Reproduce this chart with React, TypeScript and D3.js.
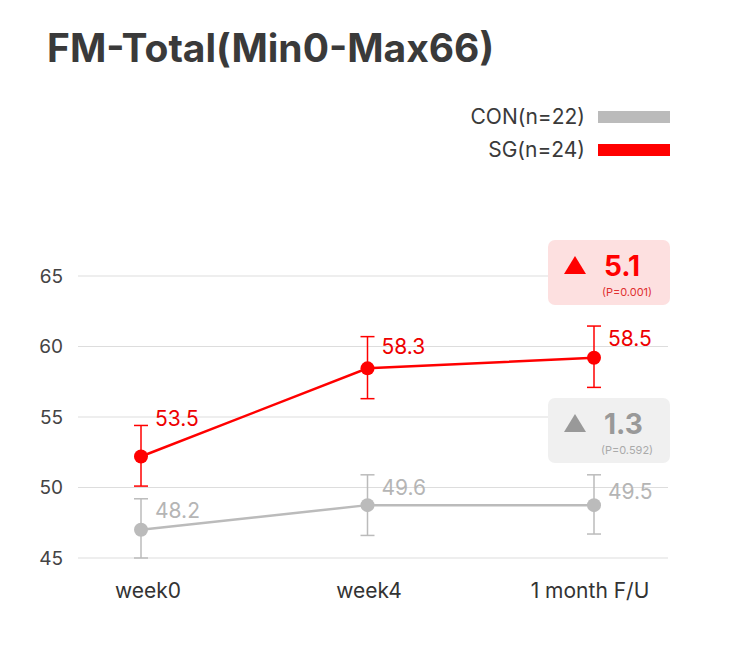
import * as d3 from "d3";
import { useEffect, useRef } from "react";

const title = "FM-Total(Min0-Max66)";
const categories = ["week0", "week4", "1 month F/U"];
const yTicks = [45, 50, 55, 60, 65];

const seriesNames = ["CON(n=22)", "SG(n=24)"];
const seriesColors = ["#bbbbbb", "#ff0000"];
const labelColors = ["#b5b5b5", "#ee0000"];

// plotted means, error bar extents and printed labels
const conValues = [47.0, 48.75, 48.75];
const conLow = [45.0, 46.6, 46.7];
const conHigh = [49.2, 50.9, 50.9];
const conLabels = ["48.2", "49.6", "49.5"];

const sgValues = [52.2, 58.45, 59.2];
const sgLow = [50.1, 56.3, 57.1];
const sgHigh = [54.4, 60.7, 61.45];
const sgLabels = ["53.5", "58.3", "58.5"];

const changeValues = ["1.3", "5.1"];
const pValues = ["(P=0.592)", "(P=0.001)"];

const FONT = "Inter, 'Noto Sans', sans-serif";

function App() {
  const ref = useRef<SVGSVGElement>(null);

  useEffect(() => {
    const svg = d3.select(ref.current);
    svg.selectAll("*").remove();

    const x = d3.scalePoint().domain(categories).range([141, 594]);
    // category labels sit slightly inward of the points
    const xLabel = d3.scalePoint().domain(categories).range([148, 590]);
    const y = d3.scaleLinear().domain([45, 65]).range([558, 276]);

    // title
    svg
      .append("text")
      .attr("x", 47)
      .attr("y", 62)
      .text(title)
      .style("font-family", FONT)
      .style("font-size", "39px")
      .style("font-weight", "700")
      .style("fill", "#3a3a3a");

    // legend
    seriesNames.forEach((name, i) => {
      const ly = 117 + i * 33;
      svg
        .append("text")
        .attr("x", 585)
        .attr("y", ly)
        .attr("dy", "0.35em")
        .attr("text-anchor", "end")
        .text(name)
        .style("font-family", FONT)
        .style("font-size", "21px")
        .style("fill", "#3a3a3a");
      svg
        .append("rect")
        .attr("x", 598)
        .attr("y", ly - 6)
        .attr("width", 72)
        .attr("height", 12)
        .attr("fill", seriesColors[i]);
    });

    // grid
    svg
      .append("g")
      .selectAll("line")
      .data(yTicks)
      .join("line")
      .attr("x1", 78)
      .attr("x2", 668)
      .attr("y1", (d) => y(d))
      .attr("y2", (d) => y(d))
      .attr("stroke", "#dddddd")
      .attr("stroke-width", 1);

    svg
      .append("g")
      .selectAll("text")
      .data(yTicks)
      .join("text")
      .attr("x", 63)
      .attr("y", (d) => y(d))
      .attr("dy", "0.35em")
      .attr("text-anchor", "end")
      .text((d) => d)
      .style("font-family", FONT)
      .style("font-size", "19px")
      .style("fill", "#444");

    svg
      .append("g")
      .selectAll("text")
      .data(categories)
      .join("text")
      .attr("x", (d) => xLabel(d)!)
      .attr("y", 591)
      .attr("dy", "0.35em")
      .attr("text-anchor", "middle")
      .text((d) => d)
      .style("font-family", FONT)
      .style("font-size", "21px")
      .style("fill", "#333");

    // annotation boxes
    const boxes = [
      { top: 398, fill: "#f0f0f0", color: "#999999", pColor: "#aaaaaa" },
      { top: 240, fill: "#fde0e0", color: "#ff0000", pColor: "#e03030" },
    ];
    boxes.forEach((b, i) => {
      const g = svg.append("g").attr("transform", `translate(548,${b.top})`);
      g.append("rect")
        .attr("width", 122)
        .attr("height", 65)
        .attr("rx", 7)
        .attr("fill", b.fill);
      g.append("path")
        .attr("d", "M16,34 L27,16 L38,34 Z")
        .attr("fill", b.color);
      g.append("text")
        .attr("x", 56)
        .attr("y", 36)
        .text(changeValues[i])
        .style("font-family", FONT)
        .style("font-size", "28px")
        .style("font-weight", "700")
        .style("fill", b.color);
      g.append("text")
        .attr("x", 79)
        .attr("y", 56)
        .attr("text-anchor", "middle")
        .text(pValues[i])
        .style("font-family", FONT)
        .style("font-size", "11px")
        .style("fill", b.pColor);
    });

    const series = [
      { values: conValues, low: conLow, high: conHigh, labels: conLabels, labelDy: [-19, -17, -13] },
      { values: sgValues, low: sgLow, high: sgHigh, labels: sgLabels, labelDy: [-38, -22, -19] },
    ];

    series.forEach((s, i) => {
      const color = seriesColors[i];
      const g = svg.append("g");
      const line = d3
        .line<number>()
        .x((_, j) => x(categories[j])!)
        .y((d) => y(d));
      g.append("path")
        .datum(s.values)
        .attr("d", line)
        .attr("fill", "none")
        .attr("stroke", color)
        .attr("stroke-width", 2.5);

      categories.forEach((c, j) => {
        const cx = x(c)!;
        g.append("line")
          .attr("x1", cx)
          .attr("x2", cx)
          .attr("y1", y(s.low[j]))
          .attr("y2", y(s.high[j]))
          .attr("stroke", color)
          .attr("stroke-width", 1.5);
        [s.low[j], s.high[j]].forEach((v) => {
          g.append("line")
            .attr("x1", cx - 7)
            .attr("x2", cx + 7)
            .attr("y1", y(v))
            .attr("y2", y(v))
            .attr("stroke", color)
            .attr("stroke-width", 1.5);
        });
        g.append("circle")
          .attr("cx", cx)
          .attr("cy", y(s.values[j]))
          .attr("r", 7)
          .attr("fill", color);
        g.append("text")
          .attr("x", cx + 14)
          .attr("y", y(s.values[j]) + s.labelDy[j])
          .attr("dy", "0.35em")
          .text(s.labels[j])
          .style("font-family", FONT)
          .style("font-size", "21px")
          .style("fill", labelColors[i]);
      });
    });
  }, []);

  return <svg ref={ref} width={730} height={668} style={{ display: "block", margin: -8 }} />;
}

export default App;
